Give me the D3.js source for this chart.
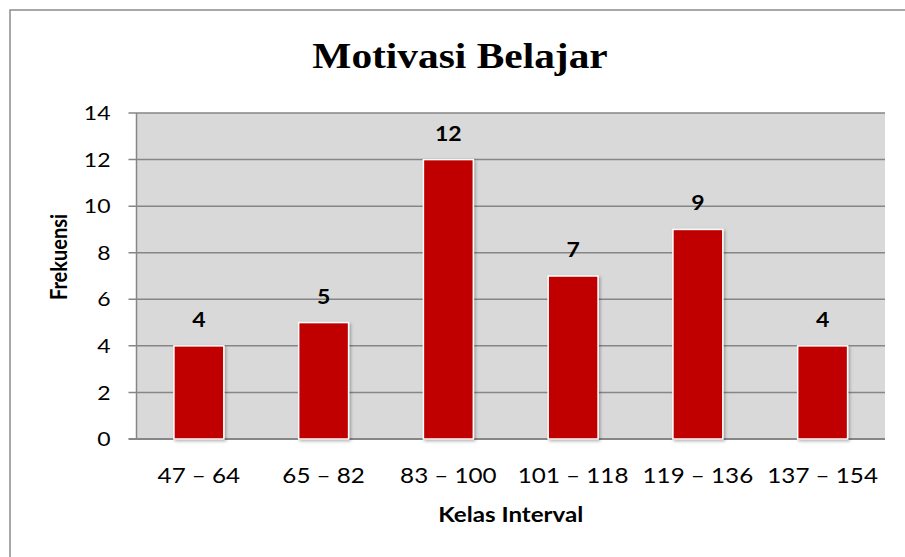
<!DOCTYPE html>
<html>
<head>
<meta charset="utf-8">
<script src="https://cdn.jsdelivr.net/npm/d3@7"></script>
<style>
  html, body { margin: 0; padding: 0; background: #fff; }
  svg { display: block; }
</style>
</head>
<body>
<div id="chart"></div>
<script>
  // Chart data
  const categories = ['47 – 64', '65 – 82', '83 – 100', '101 – 118', '119 – 136', '137 – 154'];
  const frequencies = [4, 5, 12, 7, 9, 4];
  const yTicks = [0, 2, 4, 6, 8, 10, 12, 14];

  const width = 905;
  const height = 557;
  const margin = { top: 113, right: 20, bottom: 118, left: 136.5 };
  const plotW = width - margin.left - margin.right;
  const plotH = height - margin.top - margin.bottom;
  const font = 'Lato, "Open Sans", sans-serif';
  // the original picture is a little stretched sideways
  const stretch = 1.15;

  const svg = d3.select('#chart')
    .append('svg')
    .attr('width', width)
    .attr('height', height);

  // text placed at (x, y) and widened by a stretch factor
  function stretchedText(parent, x, y, rotate, sx) {
    const rot = rotate ? ` rotate(${rotate})` : '';
    return parent.append('text')
      .attr('transform', `translate(${x},${y}) scale(${sx || stretch},1)${rot}`);
  }

  // Outer chart border (right and bottom fall outside the picture)
  svg.append('rect')
    .attr('x', 10)
    .attr('y', 10)
    .attr('width', width)
    .attr('height', height)
    .attr('fill', 'none')
    .attr('stroke', '#8c8c8c')
    .attr('stroke-width', 1.5);

  // Title
  stretchedText(svg, 460, 68)
    .attr('text-anchor', 'middle')
    .style('font-family', '"Liberation Serif", "Times New Roman", serif')
    .style('font-weight', 'bold')
    .style('font-size', '36px')
    .text('Motivasi Belajar');

  const g = svg.append('g')
    .attr('transform', `translate(${margin.left},${margin.top})`);

  const x = d3.scaleBand()
    .domain(categories)
    .range([0, plotW])
    .paddingInner(0.6)
    .paddingOuter(0.3);

  const y = d3.scaleLinear()
    .domain([0, 14])
    .range([plotH, 0]);

  // Plot background
  g.append('rect')
    .attr('width', plotW)
    .attr('height', plotH)
    .attr('fill', '#d9d9d9');

  // Gridlines
  g.append('g')
    .selectAll('line')
    .data(yTicks)
    .enter()
    .append('line')
    .attr('x1', -8)
    .attr('x2', plotW)
    .attr('y1', d => y(d))
    .attr('y2', d => y(d))
    .attr('stroke', '#868686')
    .attr('stroke-width', d => d === 0 ? 2 : 1.5);

  // Left axis line
  g.append('line')
    .attr('x1', 0).attr('x2', 0)
    .attr('y1', 0).attr('y2', plotH)
    .attr('stroke', '#868686')
    .attr('stroke-width', 1.5);

  // Y tick labels
  yTicks.forEach(t => {
    stretchedText(g, -26, y(t))
      .attr('dy', '0.36em')
      .attr('text-anchor', 'end')
      .style('font-family', font)
      .style('font-size', '20px')
      .text(t);
  });

  // Bar shadow
  const defs = svg.append('defs');
  const filter = defs.append('filter')
    .attr('id', 'shadow')
    .attr('x', '-20%').attr('y', '-10%')
    .attr('width', '150%').attr('height', '130%');
  filter.append('feDropShadow')
    .attr('dx', 1.5).attr('dy', 1.5)
    .attr('stdDeviation', 1.5)
    .attr('flood-color', '#000')
    .attr('flood-opacity', 0.3);

  // Bars
  g.append('g')
    .selectAll('rect')
    .data(frequencies)
    .enter()
    .append('rect')
    .attr('x', (d, i) => x(categories[i]))
    .attr('y', d => y(d))
    .attr('width', x.bandwidth())
    .attr('height', d => plotH - y(d))
    .attr('fill', '#c00000')
    .attr('stroke', '#ffffff')
    .attr('stroke-width', 1.5)
    .attr('filter', 'url(#shadow)');

  // Value labels
  frequencies.forEach((v, i) => {
    stretchedText(g, x(categories[i]) + x.bandwidth() / 2, y(v) - 19)
      .attr('text-anchor', 'middle')
      .style('font-family', font)
      .style('font-weight', 'bold')
      .style('font-size', '20px')
      .text(v);
  });

  // X tick labels
  categories.forEach(c => {
    stretchedText(g, x(c) + x.bandwidth() / 2, plotH + 44, 0, 1.1)
      .attr('text-anchor', 'middle')
      .style('font-family', font)
      .style('font-size', '22px')
      .text(c);
  });

  // Axis titles
  stretchedText(svg, margin.left + plotW / 2, 522)
    .attr('text-anchor', 'middle')
    .style('font-family', font)
    .style('font-weight', 'bold')
    .style('font-size', '21px')
    .text('Kelas Interval');

  stretchedText(svg, 67, 257, -90)
    .attr('text-anchor', 'middle')
    .style('font-family', font)
    .style('font-weight', 'bold')
    .style('font-size', '20px')
    .text('Frekuensi');
</script>
</body>
</html>
